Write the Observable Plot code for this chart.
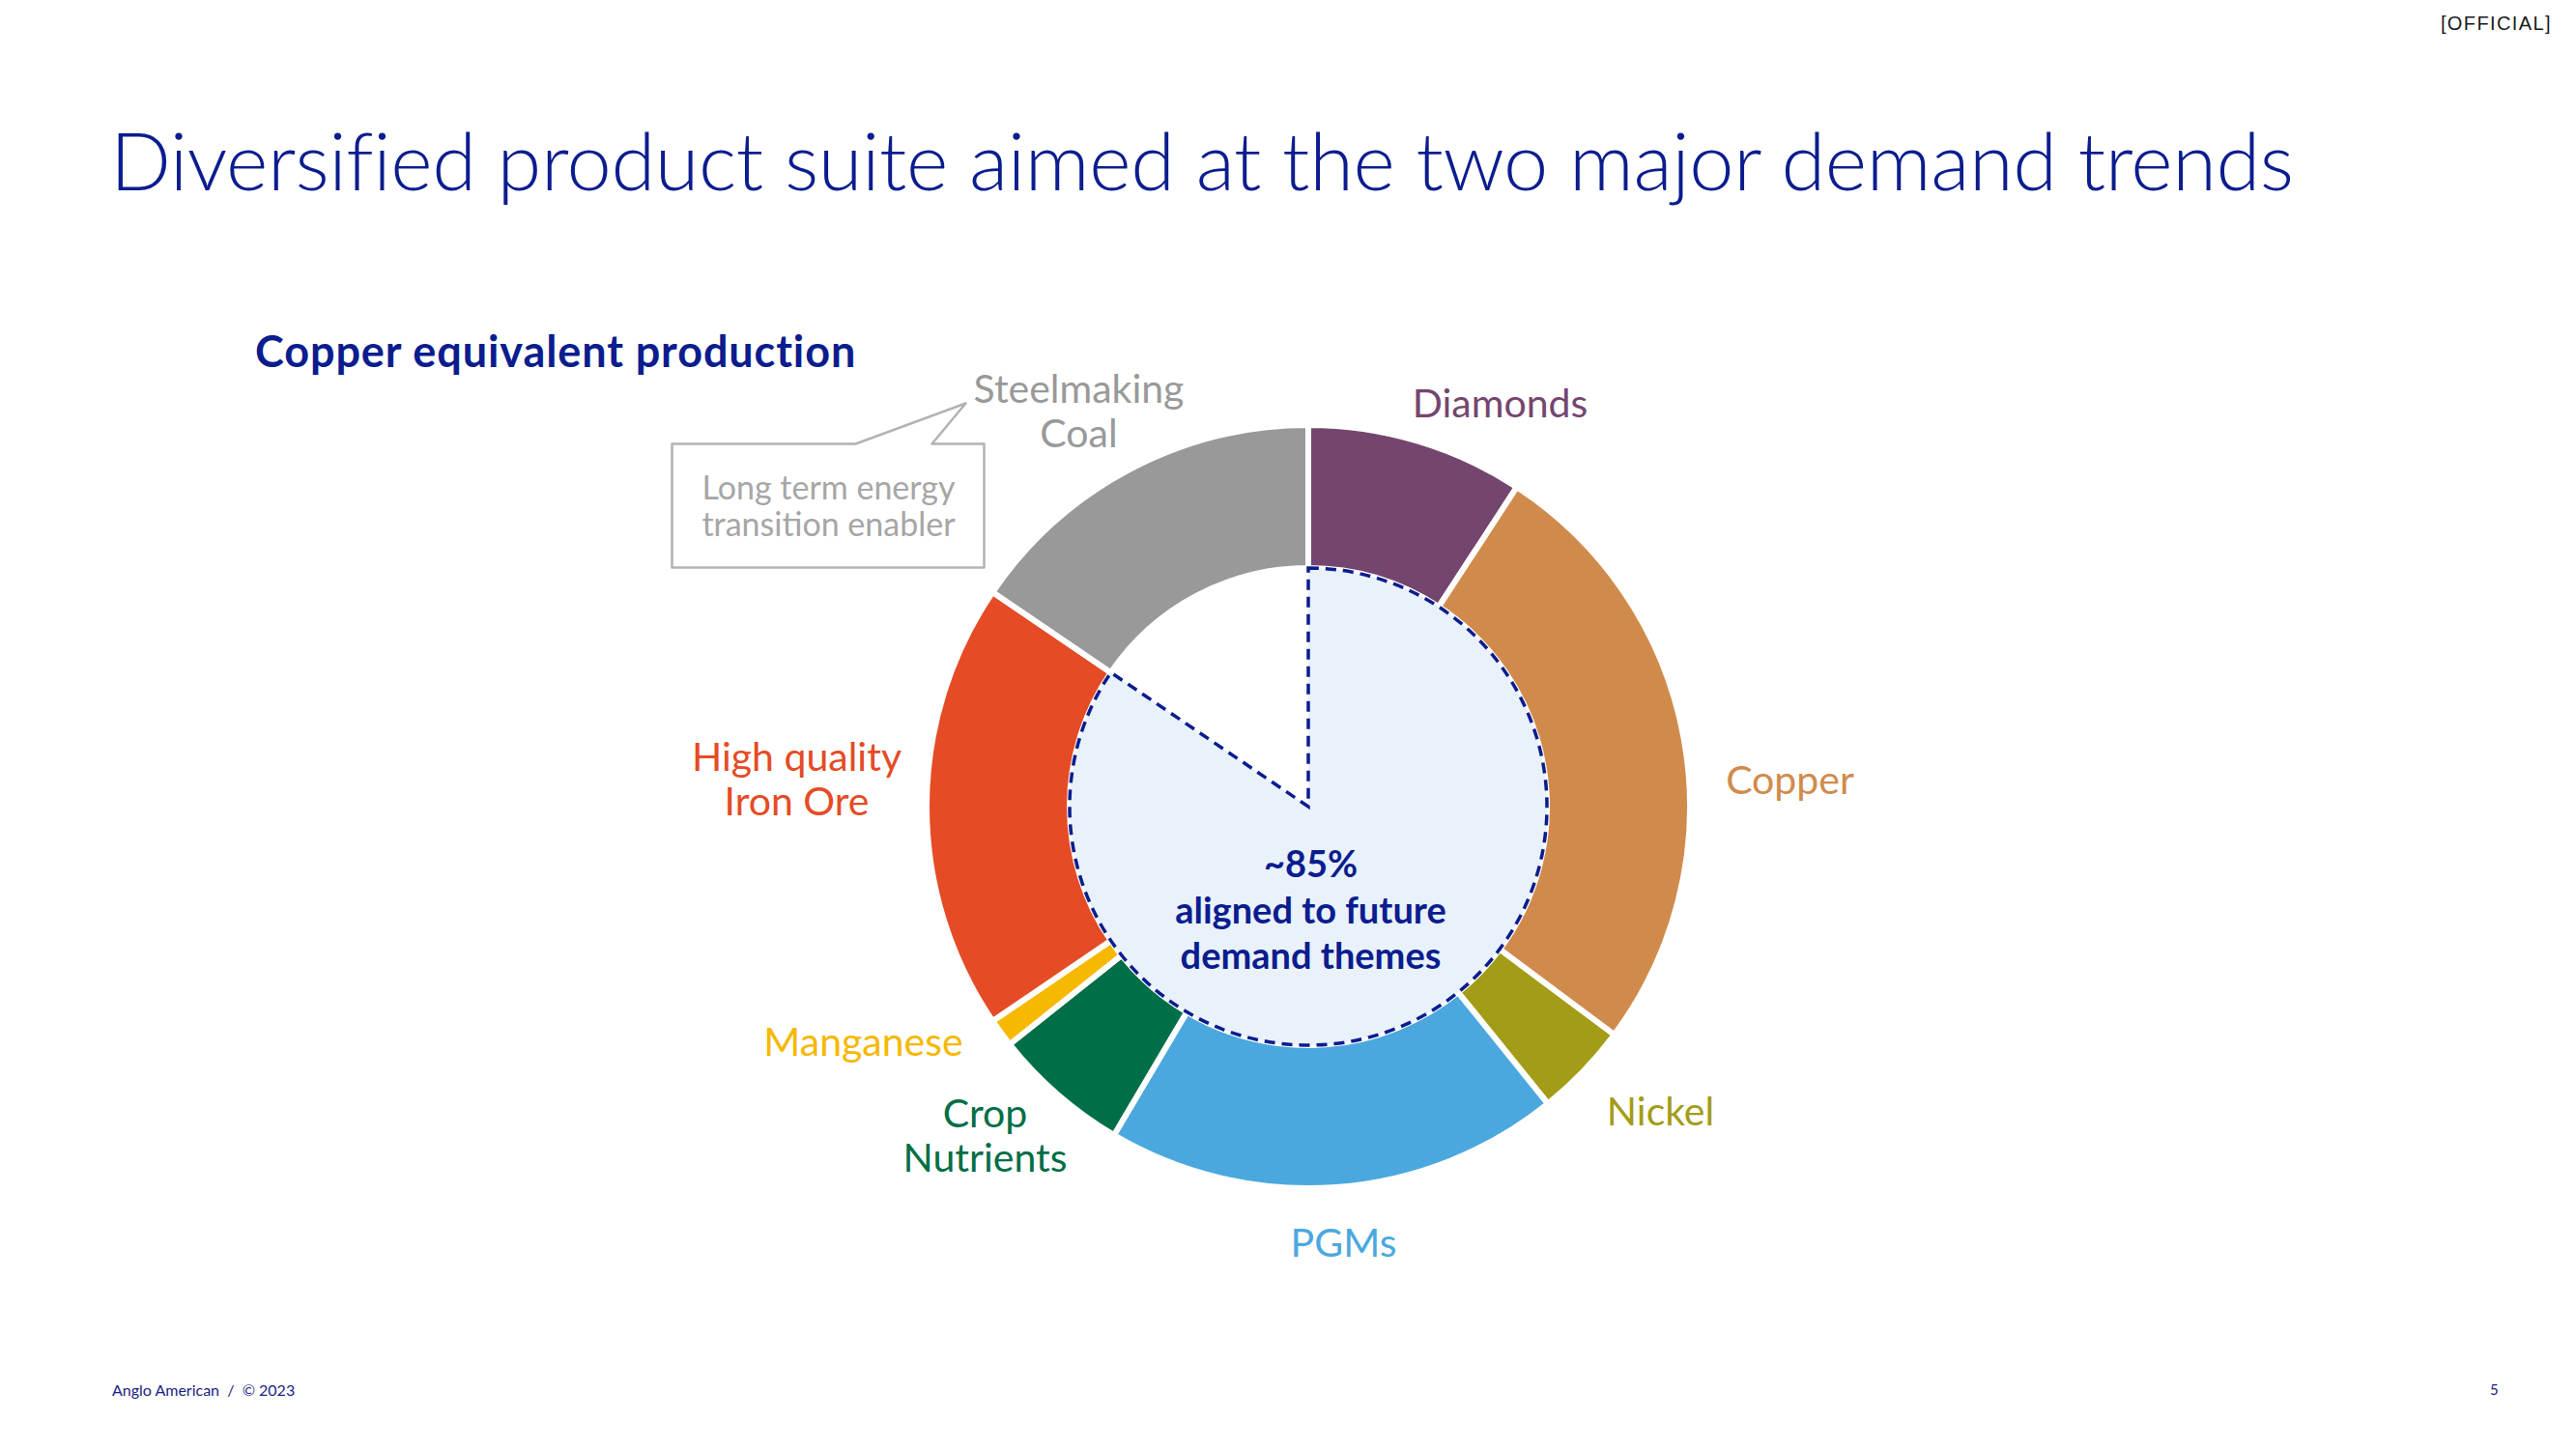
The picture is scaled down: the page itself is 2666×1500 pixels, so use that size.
<!DOCTYPE html>
<html>
<head>
<meta charset="utf-8">
<script src="https://cdn.jsdelivr.net/npm/d3@7"></script>
<script src="https://cdn.jsdelivr.net/npm/@observablehq/plot@0.6"></script>
<style>
  html, body { margin: 0; padding: 0; background: #fff; width: 2666px; height: 1500px; overflow: hidden; }
  #page { position: relative; width: 2666px; height: 1500px; font-family: Lato, "Open Sans", sans-serif; }
  #chart { position: absolute; left: 0; top: 0; }
  .abs { position: absolute; white-space: nowrap; line-height: 1; }
  #title { left: 114px; top: 124px; font-size: 83px; font-weight: 300; color: #0b1d8e; letter-spacing: -0.4px; }
  #subtitle { left: 264px; top: 341px; font-size: 45px; font-weight: 700; color: #0b1d8e; letter-spacing: 0.9px; }
  #official { right: 25px; top: 14px; font-family: "Liberation Sans", Arial, sans-serif; font-size: 20px; letter-spacing: 1.4px; color: #1a1a1a; }
  #footer { left: 116px; top: 1431px; font-size: 16px; color: #1b2385; }
  #pagenum { left: 2577px; top: 1431px; font-size: 15px; color: #1b2385; }
</style>
</head>
<body>
<div id="page">
  <div id="chart"></div>
  <div id="title" class="abs">Diversified product suite aimed at the two major demand trends</div>
  <div id="subtitle" class="abs">Copper equivalent production</div>
  <div id="official" class="abs">[OFFICIAL]</div>
  <div id="footer" class="abs">Anglo American&nbsp; /&nbsp; © 2023</div>
  <div id="pagenum" class="abs">5</div>
</div>
<script>
// ---- data ----
const products = ["Diamonds", "Copper", "Nickel", "PGMs", "Crop Nutrients", "Manganese", "High quality Iron Ore", "Steelmaking Coal"];
const shares = [9.2, 26.0, 4.0, 19.3, 5.8, 1.2, 19.0, 15.5];   // % of copper equivalent production
const colors = ["#74466f", "#d08b4c", "#a39c17", "#4ba8de", "#006e46", "#f6b800", "#e54b25", "#999999"];
const labelLines = ["Diamonds", "Copper", "Nickel", "PGMs", "Crop\nNutrients", "Manganese", "High quality\nIron Ore", "Steelmaking\nCoal"];
const futureAligned = [true, true, true, true, true, true, true, false];
const centerText = "~85%\naligned to future\ndemand themes";
const calloutText = "Long term energy\ntransition enabler";

// ---- layout (pixel offsets from donut centre, y up) ----
const outerR = 395, innerR = 247;
const labelX = [198, 498, 364, 36, -335, -461, -530, -238];
const labelY = [418, 28, -315, -451, -340, -243, 29, 410];
const calloutShape = [[-659, 376], [-469, 376], [-355, 418], [-390, 376], [-336, 376], [-336, 248], [-659, 248], [-659, 376]];

const slices = products.map((p, i) => ({product: p, share: shares[i], color: colors[i], label: labelLines[i], lx: labelX[i], ly: labelY[i], aligned: futureAligned[i]}));
const arcs = d3.pie().sort(null).value(d => d.share)(slices);
const alignedEnd = d3.max(arcs.filter(a => a.data.aligned), a => a.endAngle);

function donut(index, scales, values, dimensions) {
  const sx = scales.x, sy = scales.y;
  const cx = sx(0), cy = sy(0);
  const k = Math.abs(sx(1) - sx(0));
  const g = d3.create("svg:g").attr("transform", `translate(${cx},${cy})`);
  const arc = d3.arc().innerRadius(innerR * k).outerRadius(outerR * k);
  g.selectAll("path.slice").data(arcs).join("path")
    .attr("class", "slice")
    .attr("d", arc)
    .attr("fill", d => d.data.color)
    .attr("stroke", "#fff")
    .attr("stroke-width", 6)
    .attr("stroke-linejoin", "round");
  const sector = d3.arc().innerRadius(0).outerRadius(innerR * k).startAngle(0).endAngle(alignedEnd);
  g.append("path")
    .attr("d", sector())
    .attr("fill", "#e9f1fb")
    .attr("stroke", "#0b1d8e")
    .attr("stroke-width", 3.5)
    .attr("stroke-dasharray", "11,7");
  return g.node();
}

const chart = Plot.plot({
  width: 2666,
  height: 1500,
  margin: 0,
  x: {domain: [-1354, 1312], axis: null},
  y: {domain: [-665, 835], axis: null},
  style: {fontFamily: "Lato, 'Open Sans', sans-serif", background: "transparent"},
  marks: [
    donut,
    Plot.line(calloutShape, {x: d => d[0], y: d => d[1], stroke: "#b3b3b3", strokeWidth: 2.5, curve: "linear"}),
    Plot.text([calloutText], {x: [-497], y: [312], text: d => d, fill: "#a6a6a6", fontSize: 34, lineHeight: 1.12}),
    Plot.text(slices, {x: "lx", y: "ly", text: "label", fill: "color", fontSize: 41, lineHeight: 1.12}),
    Plot.text([centerText], {x: [2], y: [-105], text: d => d, fill: "#0b1d8e", fontSize: 38, fontWeight: 700, lineHeight: 1.24, letterSpacing: -1})
  ]
});
document.getElementById("chart").appendChild(chart);
</script>
</body>
</html>
